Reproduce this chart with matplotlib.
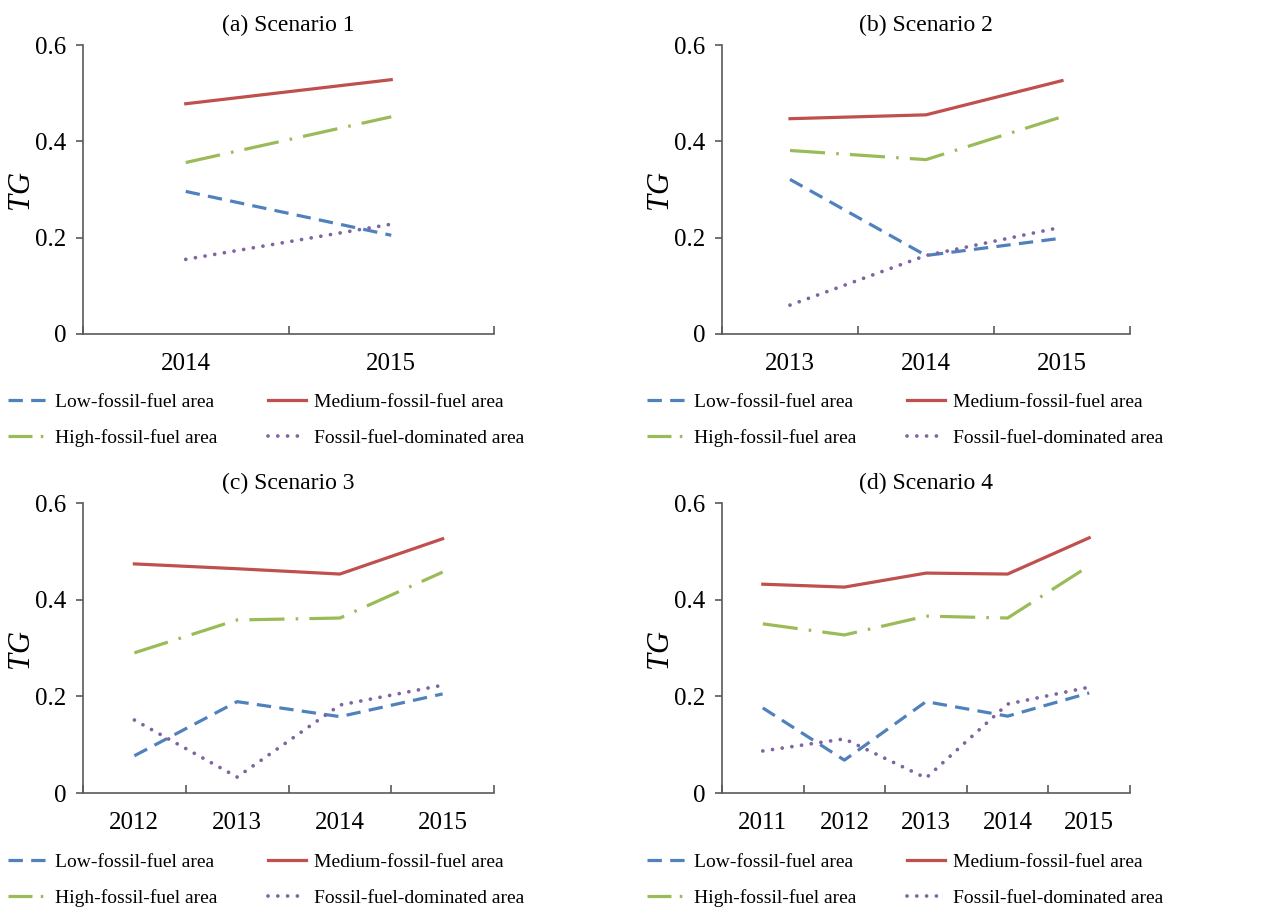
import numpy as np
import matplotlib
matplotlib.use("Agg")
import matplotlib.pyplot as plt
from matplotlib.lines import Line2D
from matplotlib.ticker import FixedLocator

plt.rcParams['font.family'] = ['Liberation Serif', 'DejaVu Serif']

# TG values, one list per scenario
years_a = ['2014', '2015']
low_a = [0.296, 0.205]
medium_a = [0.478, 0.528]
high_a = [0.356, 0.451]
fossil_a = [0.155, 0.228]

years_b = ['2013', '2014', '2015']
low_b = [0.321, 0.163, 0.199]
medium_b = [0.447, 0.455, 0.526]
high_b = [0.381, 0.362, 0.451]
fossil_b = [0.060, 0.163, 0.222]

years_c = ['2012', '2013', '2014', '2015']
low_c = [0.077, 0.189, 0.158, 0.205]
medium_c = [0.474, 0.464, 0.453, 0.526]
high_c = [0.290, 0.358, 0.362, 0.457]
fossil_c = [0.151, 0.033, 0.182, 0.223]

years_d = ['2011', '2012', '2013', '2014', '2015']
low_d = [0.176, 0.068, 0.189, 0.159, 0.207]
medium_d = [0.432, 0.426, 0.455, 0.453, 0.528]
high_d = [0.350, 0.327, 0.366, 0.362, 0.470]
fossil_d = [0.087, 0.112, 0.031, 0.184, 0.219]

titles = ['(a) Scenario 1', '(b) Scenario 2', '(c) Scenario 3', '(d) Scenario 4']
series_names = ['Low-fossil-fuel area', 'Medium-fossil-fuel area',
                'High-fossil-fuel area', 'Fossil-fuel-dominated area']

panels = [
    (years_a, low_a, medium_a, high_a, fossil_a),
    (years_b, low_b, medium_b, high_b, fossil_b),
    (years_c, low_c, medium_c, high_c, fossil_c),
    (years_d, low_d, medium_d, high_d, fossil_d),
]

blue, red, green, purple = '#4F81BD', '#C0504D', '#9BBB59', '#8064A2'
axis_col = '#5a5a5a'
lw = 2.3

W, H = 1283, 910
fig = plt.figure(figsize=(W / 100, H / 100), dpi=100)

# axes boxes in pixels: left, right, top, bottom
boxes = [(83, 494, 45, 334), (722, 1130, 45, 334),
         (83, 494, 503, 793), (722, 1130, 503, 793)]
legend_xy = [(8, 393), (647, 393), (8, 853), (647, 853)]

# shorter dash-dot for the legend so the dot shows in the handle
high_proxy = Line2D([], [], color=green, lw=lw, dashes=(7.5, 2.6, 0.8, 2.0))

for i, (years, low, med, high, fos) in enumerate(panels):
    l, r, t, b = boxes[i]
    ax = fig.add_axes([l / W, 1 - b / H, (r - l) / W, (b - t) / H])
    x = np.arange(len(years))

    h1, = ax.plot(x, low, color=blue, lw=lw, dashes=(4.5, 2.6))
    h2, = ax.plot(x, med, color=red, lw=lw)
    h3, = ax.plot(x, high, color=green, lw=lw, dashes=(11, 3.5, 0.8, 3.5))
    h4, = ax.plot(x, fos, color=purple, lw=2.7, dashes=(0.01, 2.6),
                  dash_capstyle='round')

    ax.set_xlim(-0.5, len(years) - 0.5)
    ax.set_ylim(0, 0.6)
    ax.set_yticks([0, 0.2, 0.4, 0.6])
    ax.set_yticklabels(['0', '0.2', '0.4', '0.6'], fontsize=18)

    # category axis: tick marks between categories, labels at centers
    ax.xaxis.set_major_locator(FixedLocator(np.arange(len(years) + 1) - 0.5))
    ax.xaxis.set_minor_locator(FixedLocator(x))
    ax.set_xticklabels([], minor=False)
    ax.set_xticklabels(years, minor=True, fontsize=18)
    ax.tick_params(axis='x', which='major', direction='in', length=6,
                   color=axis_col, width=1.2)
    ax.tick_params(axis='x', which='minor', length=0, pad=14)
    ax.tick_params(axis='y', direction='out', length=5, color=axis_col,
                   width=1.2, pad=7)

    for side in ['top', 'right']:
        ax.spines[side].set_visible(False)
    for side in ['left', 'bottom']:
        ax.spines[side].set_color(axis_col)
        ax.spines[side].set_linewidth(1.2)

    ax.set_title(titles[i], fontsize=17, pad=10)
    ax.set_ylabel('TG', fontsize=22, style='italic', labelpad=0)

    lx, ly = legend_xy[i]
    ax.legend([h1, high_proxy, h2, h4],
              [series_names[0], series_names[2], series_names[1], series_names[3]],
              loc='upper left', bbox_to_anchor=(lx / W, 1 - ly / H),
              bbox_transform=fig.transFigure, ncol=2, frameon=False,
              fontsize=14, handlelength=2.0, handletextpad=0.4,
              columnspacing=2.6, labelspacing=0.95, borderaxespad=0,
              borderpad=0)

fig.savefig('out.png', dpi=100)
